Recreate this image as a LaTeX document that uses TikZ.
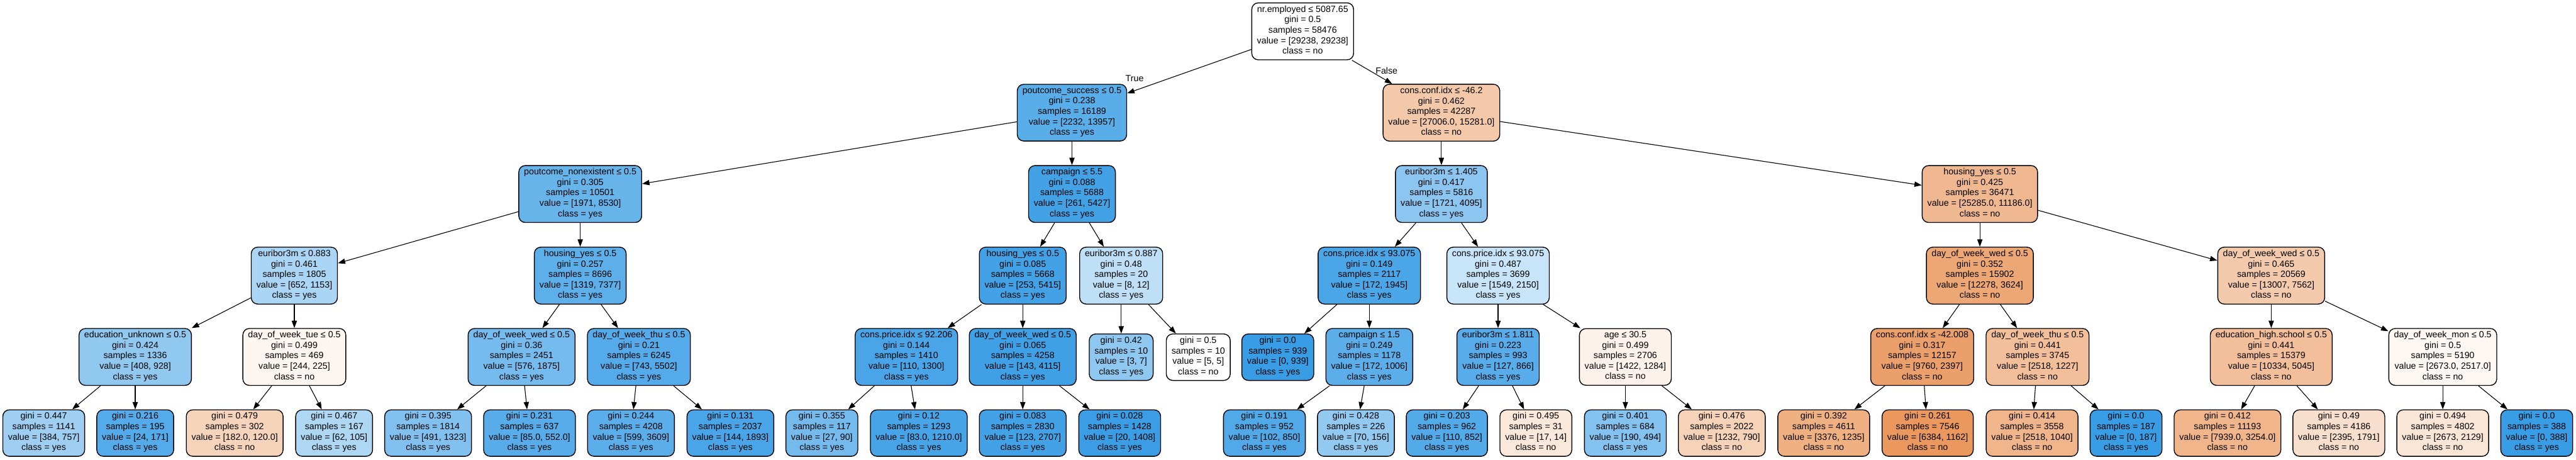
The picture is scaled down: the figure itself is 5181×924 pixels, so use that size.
\documentclass[tikz,border=0pt]{standalone}
\usepackage{fontspec}
\setmainfont{Liberation Sans}
\usetikzlibrary{arrows.meta}
\definecolor{yescol}{HTML}{399DE5}
\definecolor{nocol}{HTML}{E58139}
\begin{document}
\begin{tikzpicture}[x=0.01cm, y=-0.01cm,
    tnode/.style={shape=rectangle, rounded corners=0.13cm, draw=black, line width=0.5pt,
        align=center, inner xsep=0.105cm, inner ysep=0.055cm,
        font=\fontsize{5.12}{5.975}\selectfont,
        execute at begin node=\strut, execute at end node=\strut},
    arr/.style={line width=0.4pt, -{Triangle[length=4.2pt, width=3pt]}},
    lbl/.style={font=\fontsize{5.12}{5.975}\selectfont, inner sep=0pt}]
            \useasboundingbox (0,0) rectangle (5181,924);

            %root and first split
            \node[tnode, fill=white] (root) at (2620,63) {nr.employed ≤ 5087.65\\gini = 0.5\\samples = 58476\\value = [29238, 29238]\\class = no};
            \node[tnode, fill=yescol!84!white] (succ) at (2156,226.5) {poutcome\_success ≤ 0.5\\gini = 0.238\\samples = 16189\\value = [2232, 13957]\\class = yes};
            \node[tnode, fill=nocol!43!white] (conf1) at (2899,226.5) {cons.conf.idx ≤ -46.2\\gini = 0.462\\samples = 42287\\value = [27006.0, 15281.0]\\class = no};

            \node[tnode, fill=yescol!77!white] (nonex) at (1167,390) {poutcome\_nonexistent ≤ 0.5\\gini = 0.305\\samples = 10501\\value = [1971, 8530]\\class = yes};
            \node[tnode, fill=yescol!95!white] (camp1) at (2156,390) {campaign ≤ 5.5\\gini = 0.088\\samples = 5688\\value = [261, 5427]\\class = yes};
            \node[tnode, fill=yescol!58!white] (eur1) at (2899,390) {euribor3m ≤ 1.405\\gini = 0.417\\samples = 5816\\value = [1721, 4095]\\class = yes};
            \node[tnode, fill=nocol!56!white] (hous1) at (3982,390) {housing\_yes ≤ 0.5\\gini = 0.425\\samples = 36471\\value = [25285.0, 11186.0]\\class = no};

            \node[tnode, fill=yescol!43!white] (eur2) at (592,554) {euribor3m ≤ 0.883\\gini = 0.461\\samples = 1805\\value = [652, 1153]\\class = yes};
            \node[tnode, fill=yescol!82!white] (hous2) at (1167,554) {housing\_yes ≤ 0.5\\gini = 0.257\\samples = 8696\\value = [1319, 7377]\\class = yes};
            \node[tnode, fill=yescol!95!white] (hous3) at (2057,554) {housing\_yes ≤ 0.5\\gini = 0.085\\samples = 5668\\value = [253, 5415]\\class = yes};
            \node[tnode, fill=yescol!33!white] (eur3) at (2255,554) {euribor3m ≤ 0.887\\gini = 0.48\\samples = 20\\value = [8, 12]\\class = yes};
            \node[tnode, fill=yescol!91!white] (price1) at (2754,554) {cons.price.idx ≤ 93.075\\gini = 0.149\\samples = 2117\\value = [172, 1945]\\class = yes};
            \node[tnode, fill=yescol!28!white] (price2) at (3013,554) {cons.price.idx ≤ 93.075\\gini = 0.487\\samples = 3699\\value = [1549, 2150]\\class = yes};
            \node[tnode, fill=nocol!70!white] (wed1) at (3982,554) {day\_of\_week\_wed ≤ 0.5\\gini = 0.352\\samples = 15902\\value = [12278, 3624]\\class = no};
            \node[tnode, fill=nocol!42!white] (wed2) at (4568,554) {day\_of\_week\_wed ≤ 0.5\\gini = 0.465\\samples = 20569\\value = [13007, 7562]\\class = no};

            \node[tnode, fill=yescol!56!white] (edu1) at (272,717.5) {education\_unknown ≤ 0.5\\gini = 0.424\\samples = 1336\\value = [408, 928]\\class = yes};
            \node[tnode, fill=nocol!8!white] (tue) at (592,717.5) {day\_of\_week\_tue ≤ 0.5\\gini = 0.499\\samples = 469\\value = [244, 225]\\class = no};
            \node[tnode, fill=yescol!69!white] (wed3) at (1049,717.5) {day\_of\_week\_wed ≤ 0.5\\gini = 0.36\\samples = 2451\\value = [576, 1875]\\class = yes};
            \node[tnode, fill=yescol!86!white] (thu1) at (1285,717.5) {day\_of\_week\_thu ≤ 0.5\\gini = 0.21\\samples = 6245\\value = [743, 5502]\\class = yes};
            \node[tnode, fill=yescol!92!white] (price3) at (1823,717.5) {cons.price.idx ≤ 92.206\\gini = 0.144\\samples = 1410\\value = [110, 1300]\\class = yes};
            \node[tnode, fill=yescol!97!white] (wed4) at (2057,717.5) {day\_of\_week\_wed ≤ 0.5\\gini = 0.065\\samples = 4258\\value = [143, 4115]\\class = yes};
            \node[tnode, fill=yescol!57!white] (l42) at (2255,718) {gini = 0.42\\samples = 10\\value = [3, 7]\\class = yes};
            \node[tnode, fill=white] (l50) at (2410,718) {gini = 0.5\\samples = 10\\value = [5, 5]\\class = no};
            \node[tnode, fill=yescol] (l939) at (2570,718) {gini = 0.0\\samples = 939\\value = [0, 939]\\class = yes};
            \node[tnode, fill=yescol!83!white] (camp2) at (2754,717.5) {campaign ≤ 1.5\\gini = 0.249\\samples = 1178\\value = [172, 1006]\\class = yes};
            \node[tnode, fill=yescol!85!white] (eur4) at (3013,717.5) {euribor3m ≤ 1.811\\gini = 0.223\\samples = 993\\value = [127, 866]\\class = yes};
            \node[tnode, fill=nocol!10!white] (age) at (3269,717.5) {age ≤ 30.5\\gini = 0.499\\samples = 2706\\value = [1422, 1284]\\class = no};
            \node[tnode, fill=nocol!75!white] (conf2) at (3866,717.5) {cons.conf.idx ≤ -42.008\\gini = 0.317\\samples = 12157\\value = [9760, 2397]\\class = no};
            \node[tnode, fill=nocol!51!white] (thu2) at (4098,717.5) {day\_of\_week\_thu ≤ 0.5\\gini = 0.441\\samples = 3745\\value = [2518, 1227]\\class = no};
            \node[tnode, fill=nocol!51!white] (edu2) at (4568,717.5) {education\_high.school ≤ 0.5\\gini = 0.441\\samples = 15379\\value = [10334, 5045]\\class = no};
            \node[tnode, fill=nocol!6!white] (mon) at (4913,717.5) {day\_of\_week\_mon ≤ 0.5\\gini = 0.5\\samples = 5190\\value = [2673.0, 2517.0]\\class = no};

            %leaves at the bottom
            \node[tnode, fill=yescol!49!white] (l447) at (88,870.5) {gini = 0.447\\samples = 1141\\value = [384, 757]\\class = yes};
            \node[tnode, fill=yescol!86!white] (l216) at (272,870.5) {gini = 0.216\\samples = 195\\value = [24, 171]\\class = yes};
            \node[tnode, fill=nocol!34!white] (l479) at (472,870.5) {gini = 0.479\\samples = 302\\value = [182.0, 120.0]\\class = no};
            \node[tnode, fill=yescol!41!white] (l467) at (672,870.5) {gini = 0.467\\samples = 167\\value = [62, 105]\\class = yes};
            \node[tnode, fill=yescol!63!white] (l395) at (861,870.5) {gini = 0.395\\samples = 1814\\value = [491, 1323]\\class = yes};
            \node[tnode, fill=yescol!85!white] (l231) at (1065,870.5) {gini = 0.231\\samples = 637\\value = [85.0, 552.0]\\class = yes};
            \node[tnode, fill=yescol!83!white] (l244) at (1269,870.5) {gini = 0.244\\samples = 4208\\value = [599, 3609]\\class = yes};
            \node[tnode, fill=yescol!92!white] (l131) at (1469,870.5) {gini = 0.131\\samples = 2037\\value = [144, 1893]\\class = yes};
            \node[tnode, fill=yescol!70!white] (l355) at (1653,870.5) {gini = 0.355\\samples = 117\\value = [27, 90]\\class = yes};
            \node[tnode, fill=yescol!93!white] (l12) at (1848,870.5) {gini = 0.12\\samples = 1293\\value = [83.0, 1210.0]\\class = yes};
            \node[tnode, fill=yescol!95!white] (l083) at (2057,870.5) {gini = 0.083\\samples = 2830\\value = [123, 2707]\\class = yes};
            \node[tnode, fill=yescol!99!white] (l028) at (2252,870.5) {gini = 0.028\\samples = 1428\\value = [20, 1408]\\class = yes};
            \node[tnode, fill=yescol!88!white] (l191) at (2543,870.5) {gini = 0.191\\samples = 952\\value = [102, 850]\\class = yes};
            \node[tnode, fill=yescol!55!white] (l428) at (2727,870.5) {gini = 0.428\\samples = 226\\value = [70, 156]\\class = yes};
            \node[tnode, fill=yescol!87!white] (l203) at (2910,870.5) {gini = 0.203\\samples = 962\\value = [110, 852]\\class = yes};
            \node[tnode, fill=nocol!18!white] (l495) at (3089,870.5) {gini = 0.495\\samples = 31\\value = [17, 14]\\class = no};
            \node[tnode, fill=yescol!62!white] (l401) at (3269,870.5) {gini = 0.401\\samples = 684\\value = [190, 494]\\class = yes};
            \node[tnode, fill=nocol!36!white] (l476) at (3463,870.5) {gini = 0.476\\samples = 2022\\value = [1232, 790]\\class = no};
            \node[tnode, fill=nocol!63!white] (l392) at (3668,870.5) {gini = 0.392\\samples = 4611\\value = [3376, 1235]\\class = no};
            \node[tnode, fill=nocol!82!white] (l261) at (3877,870.5) {gini = 0.261\\samples = 7546\\value = [6384, 1162]\\class = no};
            \node[tnode, fill=nocol!59!white] (l414) at (4087,870.5) {gini = 0.414\\samples = 3558\\value = [2518, 1040]\\class = no};
            \node[tnode, fill=yescol] (l187) at (4276,870.5) {gini = 0.0\\samples = 187\\value = [0, 187]\\class = yes};
            \node[tnode, fill=nocol!59!white] (l412) at (4480,870.5) {gini = 0.412\\samples = 11193\\value = [7939.0, 3254.0]\\class = no};
            \node[tnode, fill=nocol!25!white] (l49) at (4704,870.5) {gini = 0.49\\samples = 4186\\value = [2395, 1791]\\class = no};
            \node[tnode, fill=nocol!20!white] (l494) at (4913,870.5) {gini = 0.494\\samples = 4802\\value = [2673, 2129]\\class = no};
            \node[tnode, fill=yescol] (l388) at (5102,870.5) {gini = 0.0\\samples = 388\\value = [0, 388]\\class = yes};

            %now the edges
            \draw[arr] (root) edge node[lbl, pos=0.94, above=5pt] (ltrue) {True} (succ);
            \draw[arr] (root) edge node[lbl, pos=0.45, right=3pt] (lfalse) {False} (conf1);

            \draw[arr] (succ) edge (nonex);
            \draw[arr] (succ) edge (camp1);
            \draw[arr] (conf1) edge (eur1);
            \draw[arr] (conf1) edge (hous1);

            \draw[arr] (nonex) edge (eur2);
            \draw[arr] (nonex) edge (hous2);
            \draw[arr] (camp1) edge (hous3);
            \draw[arr] (camp1) edge (eur3);
            \draw[arr] (eur1) edge (price1);
            \draw[arr] (eur1) edge (price2);
            \draw[arr] (hous1) edge (wed1);
            \draw[arr] (hous1) edge (wed2);

            \draw[arr] (eur2) edge (edu1);
            \draw[arr] (eur2) edge (tue);
            \draw[arr] (hous2) edge (wed3);
            \draw[arr] (hous2) edge (thu1);
            \draw[arr] (hous3) edge (price3);
            \draw[arr] (hous3) edge (wed4);
            \draw[arr] (eur3) edge (l42);
            \draw[arr] (eur3) edge (l50);
            \draw[arr] (price1) edge (l939);
            \draw[arr] (price1) edge (camp2);
            \draw[arr] (price2) edge (eur4);
            \draw[arr] (price2) edge (age);
            \draw[arr] (wed1) edge (conf2);
            \draw[arr] (wed1) edge (thu2);
            \draw[arr] (wed2) edge (edu2);
            \draw[arr] (wed2) edge (mon);

            %edges to the leaves
            \draw[arr] (edu1) edge (l447);
            \draw[arr] (edu1) edge (l216);
            \draw[arr] (tue) edge (l479);
            \draw[arr] (tue) edge (l467);
            \draw[arr] (wed3) edge (l395);
            \draw[arr] (wed3) edge (l231);
            \draw[arr] (thu1) edge (l244);
            \draw[arr] (thu1) edge (l131);
            \draw[arr] (price3) edge (l355);
            \draw[arr] (price3) edge (l12);
            \draw[arr] (wed4) edge (l083);
            \draw[arr] (wed4) edge (l028);
            \draw[arr] (camp2) edge (l191);
            \draw[arr] (camp2) edge (l428);
            \draw[arr] (eur4) edge (l203);
            \draw[arr] (eur4) edge (l495);
            \draw[arr] (age) edge (l401);
            \draw[arr] (age) edge (l476);
            \draw[arr] (conf2) edge (l392);
            \draw[arr] (conf2) edge (l261);
            \draw[arr] (thu2) edge (l414);
            \draw[arr] (thu2) edge (l187);
            \draw[arr] (edu2) edge (l412);
            \draw[arr] (edu2) edge (l49);
            \draw[arr] (mon) edge (l494);
            \draw[arr] (mon) edge (l388);
        \end{tikzpicture}
\end{document}
